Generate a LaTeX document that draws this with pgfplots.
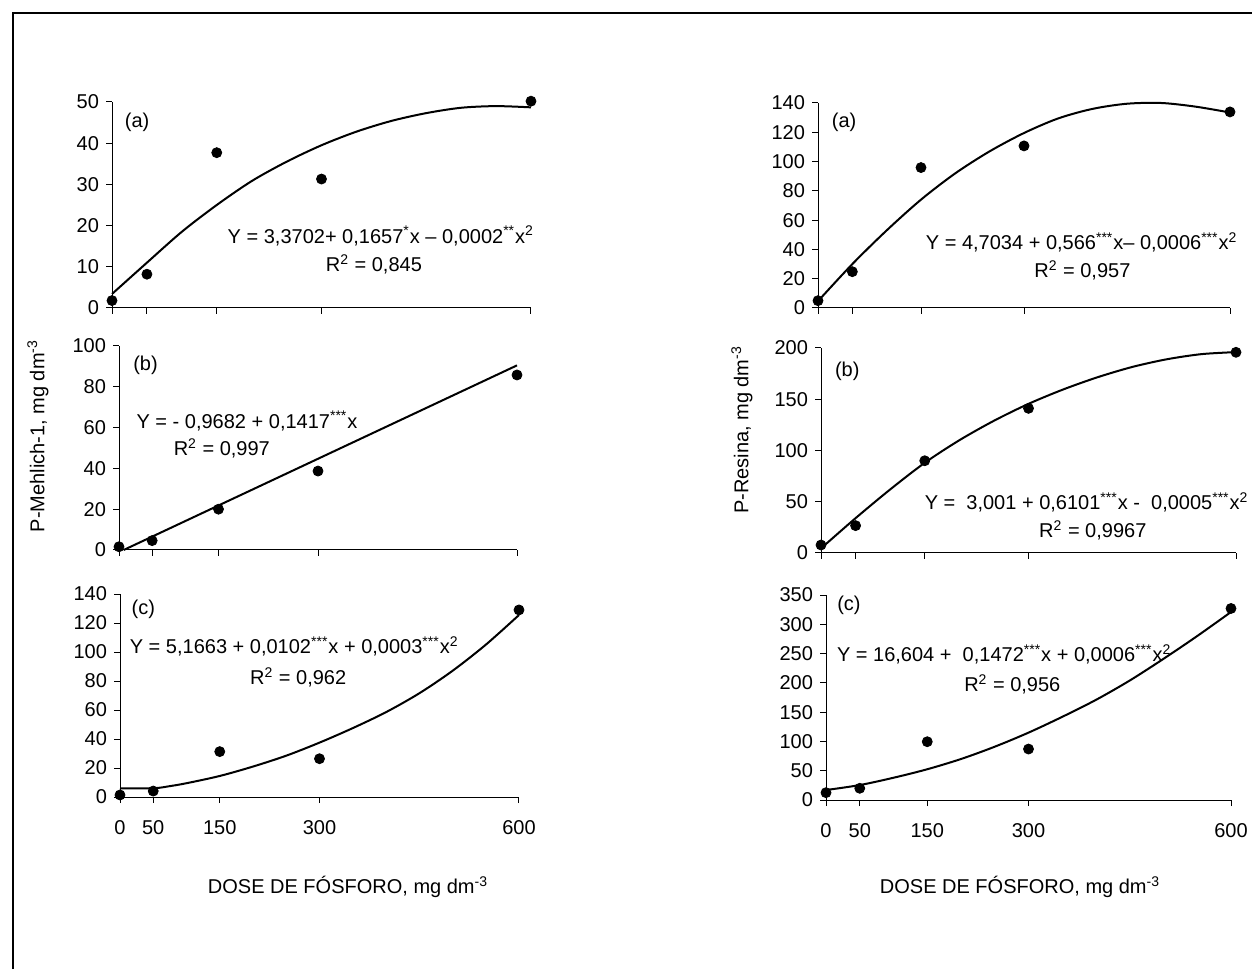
\documentclass[border=0pt]{standalone}
\usepackage{fontspec}
\setmainfont{Liberation Sans}
\usepackage{pgfplots}
\pgfplotsset{compat=1.18}
\newcommand{\fs}{\fontsize{10}{12}\selectfont}
\newcommand{\sx}[1]{\textsuperscript{#1}}
\pgfplotsset{
  panel/.style={
    scale only axis, anchor=south west,
    xmin=0, xmax=600, ymin=0,
    axis x line*=bottom, axis y line*=left,
    xtick={0,50,150,300,600},
    tick align=outside, major tick length=3pt,
    tick style={black, line width=0.5pt},
    axis line style={black, line width=0.5pt},
    every tick label/.append style={font=\fs},
    /pgf/number format/assume math mode=true,
    clip=false,
  },
  nolab/.style={xticklabels={}},
  botlab/.style={xticklabel style={yshift=-5pt}},
  pts/.style={only marks, mark=*, mark size=2.5pt, black},
  fit/.style={black, line width=1pt, smooth, no markers},
}
\begin{document}
\begin{tikzpicture}
\useasboundingbox (0,0) rectangle (626pt,484.5pt);
% frame (cropped at right and bottom)
\draw[line width=0.7pt] (6.5pt,0) -- (6.5pt,478pt) -- (626pt,478pt);

% ---------- left column: P-Mehlich-1 ----------
\begin{axis}[panel, nolab, at={(56pt,330.5pt)}, width=209.5pt, height=103pt,
  ymax=50, ytick={0,10,...,50}]
\addplot[fit] coordinates {
  (0,3.4)(50,11)(100,18.5)(150,25)(200,30.8)(250,35.5)(300,39.5)
  (350,42.8)(400,45.4)(450,47.3)(500,48.6)(550,49.0)(600,48.7)};
\addplot[pts] coordinates {(0,1.8)(50,8.2)(150,37.7)(300,31.3)(600,50.2)};
\node[font=\fs] at (axis cs:36,45) {(a)};
\node[font=\fs] at (axis cs:385,17.5) {Y = 3,3702+ 0,1657\sx{*}x – 0,0002\sx{**}x\sx{2}};
\node[font=\fs] at (axis cs:375,10.6) {R\sx{2} = 0,845};
\end{axis}

\begin{axis}[panel, nolab, at={(59.5pt,209.5pt)}, width=199pt, height=102pt,
  ymax=100, ytick={0,20,...,100}]
\addplot[black, line width=1pt] coordinates {(7,0)(600,90.5)};
\addplot[pts] coordinates {(0,1.6)(50,4.6)(150,20)(300,38.7)(600,85.8)};
\node[font=\fs] at (axis cs:40,90.7) {(b)};
\node[font=\fs] at (axis cs:193,63.2) {Y = - 0,9682 + 0,1417\sx{***}x};
\node[font=\fs] at (axis cs:155,49.8) {R\sx{2} = 0,997};
\end{axis}

\begin{axis}[panel, botlab, at={(60pt,86pt)}, width=199.5pt, height=101.5pt,
  ymax=140, ytick={0,20,...,140}]
\addplot[fit] coordinates {
  (0,6)(50,6)(75,7.5)(100,9.5)(150,14.5)(200,21)(250,28.5)(300,37.5)
  (350,47.5)(400,58.5)(450,71.5)(500,87)(550,105)(600,125.5)};
\addplot[pts] coordinates {(0,1.4)(50,4.1)(150,31.3)(300,26.4)(600,129)};
\node[font=\fs] at (axis cs:35,129.7) {(c)};
\node[font=\fs] at (axis cs:262,104) {Y = 5,1663 + 0,0102\sx{***}x + 0,0003\sx{***}x\sx{2}};
\node[font=\fs] at (axis cs:268,82.5) {R\sx{2} = 0,962};
\end{axis}

% ---------- right column: P-Resina ----------
\begin{axis}[panel, nolab, at={(409pt,330.5pt)}, width=206pt, height=102.5pt,
  ymax=140, ytick={0,20,...,140}]
\addplot[fit] coordinates {
  (0,4.7)(50,30)(100,53)(150,74)(200,92)(250,107)(300,119.5)
  (350,129.5)(400,136)(450,139.5)(500,140)(550,137.5)(600,133.5)};
\addplot[pts] coordinates {(0,5)(50,24.8)(150,95.9)(300,110.7)(600,133.9)};
\node[font=\fs] at (axis cs:38,126.8) {(a)};
\node[font=\fs] at (axis cs:384,44.9) {Y = 4,7034 + 0,566\sx{***}x– 0,0006\sx{***}x\sx{2}};
\node[font=\fs] at (axis cs:385,25.5) {R\sx{2} = 0,957};
\end{axis}

\begin{axis}[panel, nolab, at={(410.5pt,208pt)}, width=207.5pt, height=102.5pt,
  ymax=200, ytick={0,50,...,200}]
\addplot[fit] coordinates {
  (0,4.5)(50,34)(100,62)(150,88)(200,110)(250,129)(300,145.5)
  (350,159.5)(400,171.5)(450,181.5)(500,189)(550,194)(600,196)};
\addplot[pts] coordinates {(0,7.8)(50,26.7)(150,90)(300,141.1)(600,195.8)};
\node[font=\fs] at (axis cs:38,176.9) {(b)};
\node[font=\fs] at (axis cs:384,49.4) {Y =\ \ 3,001 + 0,6101\sx{***}x -\ \ 0,0005\sx{***}x\sx{2}};
\node[font=\fs] at (axis cs:393,21.8) {R\sx{2} = 0,9967};
\end{axis}

\begin{axis}[panel, botlab, at={(413pt,84.5pt)}, width=202.5pt, height=102.5pt,
  ymax=350, ytick={0,50,...,350}]
\addplot[fit] coordinates {
  (0,17)(50,25.5)(100,38)(150,52.5)(200,70)(250,91)(300,115)
  (350,142)(400,171)(450,204)(500,241)(550,280)(600,321)};
\addplot[pts] coordinates {(0,12.5)(50,20)(150,99.5)(300,87)(600,327)};
\node[font=\fs] at (axis cs:34,331.6) {(c)};
\node[font=\fs] at (axis cs:264,249) {Y = 16,604 +\ \ 0,1472\sx{***}x + 0,0006\sx{***}x\sx{2}};
\node[font=\fs] at (axis cs:276,198) {R\sx{2} = 0,956};
\end{axis}

% axis titles
\node[rotate=90, font=\fs] at (19pt,266.5pt) {P-Mehlich-1, mg dm\sx{-3}};
\node[rotate=90, font=\fs] at (371pt,269.5pt) {P-Resina, mg dm\sx{-3}};
\node[font=\fs] at (174pt,41pt) {DOSE DE FÓSFORO, mg dm\sx{-3}};
\node[font=\fs] at (510pt,41pt) {DOSE DE FÓSFORO, mg dm\sx{-3}};
\end{tikzpicture}
\end{document}
